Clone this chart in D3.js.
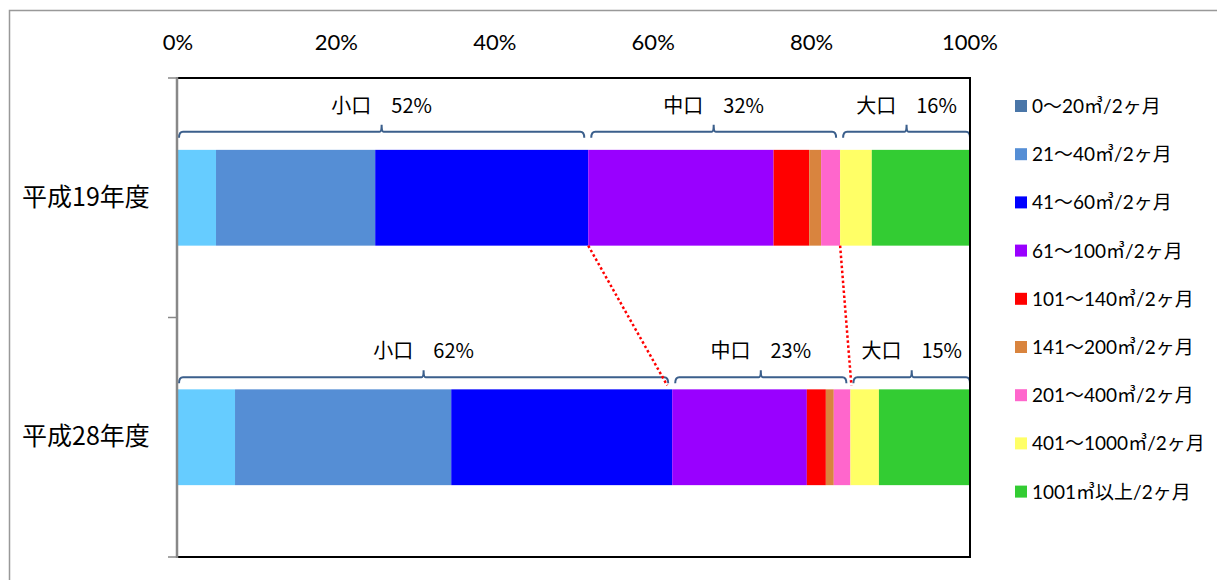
<!DOCTYPE html>
<html lang="ja">
<head>
<meta charset="utf-8">
<title>用途別使用水量構成</title>
<script src="https://cdn.jsdelivr.net/npm/d3@7"></script>
<style>
  body { margin: 0; background: #fff; }
  svg { display: block; }
  .jp { font-family: "Noto Sans CJK JP", sans-serif; }
  .lat { font-family: Lato, "Noto Sans CJK JP", sans-serif; }
</style>
</head>
<body>
<div id="chart"></div>
<script>
// data (percent of customers)
var categories = ["平成19年度", "平成28年度"];
var seriesNames = ["0～20㎥/2ヶ月", "21～40㎥/2ヶ月", "41～60㎥/2ヶ月", "61～100㎥/2ヶ月",
  "101～140㎥/2ヶ月", "141～200㎥/2ヶ月", "201～400㎥/2ヶ月", "401～1000㎥/2ヶ月", "1001㎥以上/2ヶ月"];
var valuesH19 = [4.8, 20.1, 26.9, 23.4, 4.5, 1.5, 2.4, 4.0, 12.4];
var valuesH28 = [7.2, 27.3, 27.9, 17.0, 2.4, 1.0, 2.1, 3.6, 11.5];
var groupNames = ["小口", "中口", "大口"];
var groupEnds = [3, 7, 9];           // series index where each group stops
var groupPctH19 = [52, 32, 16];
var groupPctH28 = [62, 23, 15];
var tickValues = [0, 20, 40, 60, 80, 100];

var barColors = ["#66ccff", "#558ed5", "#0000ff", "#9900ff", "#ff0000", "#d9843e", "#ff66cc", "#ffff66", "#33cc33"];
var legendColors = ["#4a76a8"].concat(barColors.slice(1));

var width = 1217, height = 580;
var plotL = 178, plotR = 970, plotT = 78, plotB = 557;

var svg = d3.select("#chart").append("svg")
  .attr("width", width).attr("height", height);

// outer chart frame (runs off the picture on the right and bottom)
svg.append("path")
  .attr("d", "M9.5," + height + "V10.5H" + width)
  .attr("fill", "none").attr("stroke", "#999").attr("stroke-width", 1.5);

var x = d3.scaleLinear().domain([0, 100]).range([plotL, plotR]);
var y = d3.scaleBand().domain(categories).range([plotT, plotB]);
var barH = y.bandwidth() * 0.4;

var rows = [valuesH19, valuesH28].map(function(vals, i) {
  var acc = 0;
  var segs = vals.map(function(v, j) {
    var s = { series: j, x0: acc, x1: acc + v, cat: categories[i] };
    acc += v;
    return s;
  });
  return { cat: categories[i], segs: segs, pct: i == 0 ? groupPctH19 : groupPctH28, idx: i };
});

// top axis labels
svg.selectAll("text.tick").data(tickValues).enter().append("text")
  .attr("class", "tick lat")
  .attr("x", function(d) { return x(d); })
  .attr("y", 50)
  .attr("text-anchor", "middle")
  .attr("font-size", 22)
  .text(function(d) { return d + "%"; });

// bars
var g = svg.selectAll("g.row").data(rows).enter().append("g").attr("class", "row");
g.selectAll("rect").data(function(d) { return d.segs; })
  .enter().append("rect")
  .attr("x", function(d) { return x(d.x0); })
  .attr("y", function(d) { return y(d.cat) + (y.bandwidth() - barH) / 2; })
  .attr("width", function(d) { return x(d.x1) - x(d.x0); })
  .attr("height", barH)
  .attr("fill", function(d) { return barColors[d.series]; });

// brackets and group labels
rows.forEach(function(r) {
  var barTop = y(r.cat) + (y.bandwidth() - barH) / 2;
  var hy = r.idx == 0 ? barTop - 18 : barTop - 12;
  var start = 0;
  groupEnds.forEach(function(end, k) {
    var a = r.segs[start].x0, b = r.segs[end - 1].x1;
    var xa = x(a) + (a > 0 ? 3 : 1), xb = x(b) - (b < 99.9 ? 4 : 0);
    var xm = (xa + xb) / 2;
    svg.append("path")
      .attr("d", "M" + xa + "," + (hy + 6) + "Q" + xa + "," + hy + " " + (xa + 4) + "," + hy +
        "H" + (xm - 2) + "Q" + xm + "," + hy + " " + xm + "," + (hy - 7) +
        "Q" + xm + "," + hy + " " + (xm + 2) + "," + hy +
        "H" + (xb - 4) + "Q" + xb + "," + hy + " " + xb + "," + (hy + 6))
      .attr("fill", "none").attr("stroke", "#3b5f8c").attr("stroke-width", 2);
    svg.append("text").attr("class", "jp")
      .attr("x", xm).attr("y", hy - 19)
      .attr("text-anchor", "middle").attr("font-size", 20)
      .text(groupNames[k] + "　" + r.pct[k] + "%");
    start = end;
  });
});

// red dotted connectors between the group boundaries
var b0 = rows[0], b1 = rows[1];
var bot0 = y(b0.cat) + (y.bandwidth() + barH) / 2;
var top1 = y(b1.cat) + (y.bandwidth() - barH) / 2;
[groupEnds[0], groupEnds[1]].forEach(function(e, k) {
  svg.append("line")
    .attr("x1", x(b0.segs[e - 1].x1)).attr("y1", bot0)
    .attr("x2", x(b1.segs[e - 1].x1) + (k == 0 ? -5 : 1)).attr("y2", top1 - 4)
    .attr("stroke", "#ff0000").attr("stroke-width", 2.5)
    .attr("stroke-dasharray", "2.5,2.5");
});

// plot frame
svg.append("path")
  .attr("d", "M" + plotL + "," + plotT + "H" + plotR + "V" + plotB + "H" + plotL)
  .attr("fill", "none").attr("stroke", "#000").attr("stroke-width", 2);
svg.append("line")
  .attr("x1", plotL - 1).attr("x2", plotL - 1).attr("y1", plotT - 1).attr("y2", plotB + 1)
  .attr("stroke", "#888").attr("stroke-width", 2.5);
svg.selectAll("line.ytick").data([plotT, y(categories[1]), plotB]).enter().append("line")
  .attr("class", "ytick")
  .attr("x1", plotL - 10).attr("x2", plotL).attr("y1", function(d) { return d; }).attr("y2", function(d) { return d; })
  .attr("stroke", "#888").attr("stroke-width", 1.5);

// category labels
svg.selectAll("text.cat").data(categories).enter().append("text")
  .attr("class", "cat jp")
  .attr("x", 22)
  .attr("y", function(d) { return y(d) + y.bandwidth() / 2 + 8; })
  .attr("font-size", 25)
  .text(function(d) { return d; });

// legend
var leg = svg.selectAll("g.leg").data(seriesNames).enter().append("g")
  .attr("class", "leg")
  .attr("transform", function(d, i) { return "translate(1015," + (106 + i * 48.2) + ")"; });
leg.append("rect").attr("x", 0).attr("y", -6).attr("width", 12).attr("height", 12)
  .attr("fill", function(d, i) { return legendColors[i]; });
leg.append("text").attr("class", "lat")
  .attr("x", 17).attr("y", 7)
  .attr("font-size", 19)
  .text(function(d) { return d; });
</script>
</body>
</html>
